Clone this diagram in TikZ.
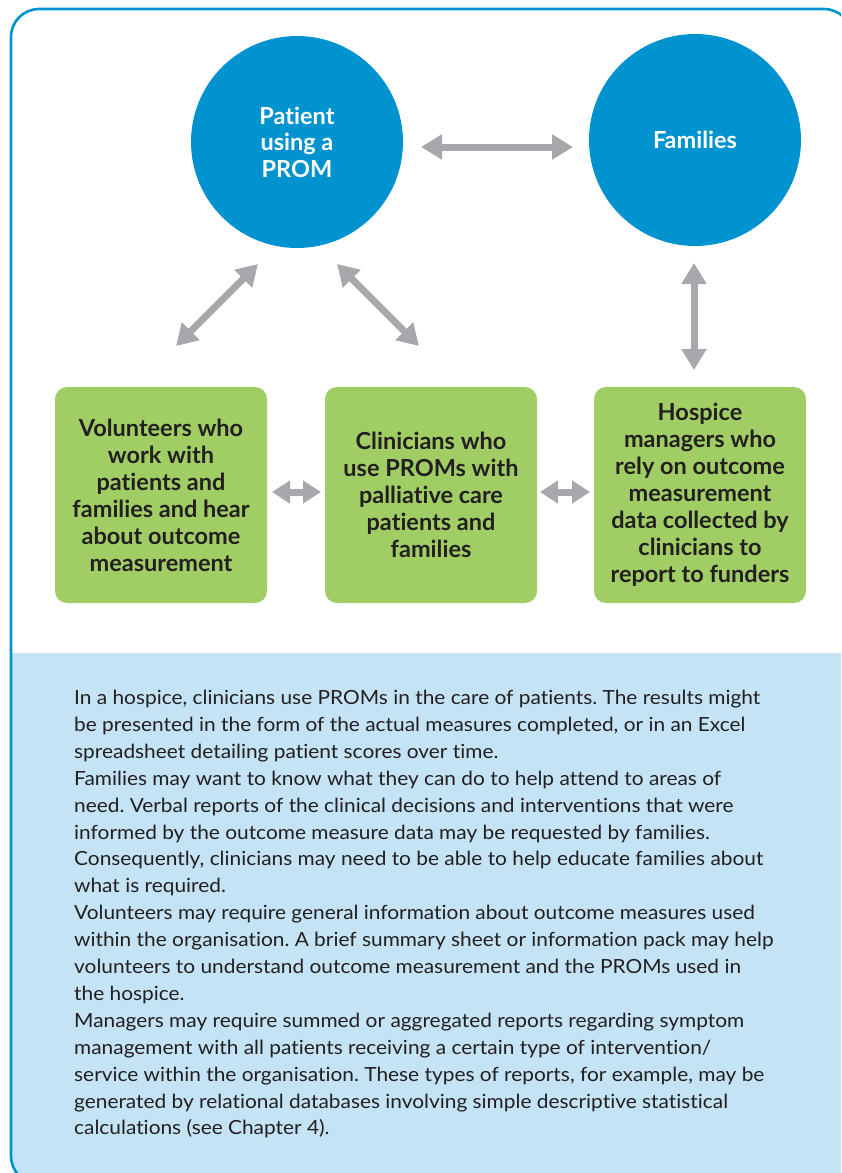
\documentclass[tikz,border=0pt]{standalone}
\usepackage{fontspec}
\setmainfont{Lato}[Ligatures=NoCommon]
\newfontfamily\bodyfont{Lato}[FakeStretch=1.07, Ligatures=NoCommon]
\usetikzlibrary{arrows.meta}
\definecolor{frameblue}{HTML}{0093D0}
\definecolor{circblue}{HTML}{0093D0}
\definecolor{boxgreen}{HTML}{A1CE64}
\definecolor{arrgrey}{HTML}{A7A8AB}
\definecolor{panelblue}{HTML}{C4E3F4}
\definecolor{darktext}{HTML}{231F20}
\tikzset{
  circ/.style={circle, fill=circblue, minimum size=212pt, inner sep=0pt, text=white, align=center, font=\fontsize{23.5}{26.5}\selectfont\bfseries},
  gbox/.style={rectangle, rounded corners=12pt, fill=boxgreen, minimum width=212pt, minimum height=216pt, inner sep=0pt, text=darktext, align=center, font=\fontsize{23.5}{27}\selectfont\bfseries},
  garrow/.style={draw=arrgrey, line width=7pt, {Triangle[length=21pt,width=24pt]}-{Triangle[length=21pt,width=24pt]}},
  sarrow/.style={draw=arrgrey, line width=7pt, {Triangle[length=18pt,width=22pt]}-{Triangle[length=18pt,width=22pt]}},
  bodytext/.style={anchor=north west, inner sep=0pt, align=left, text=darktext, font=\bodyfont\fontsize{19.5}{26.9}\selectfont}
}
\begin{document}
\frenchspacing
\begin{tikzpicture}[x=1pt,y=-1pt]
\useasboundingbox (0,0) rectangle (841,1173);
\clip (0,0) rectangle (841,1173);
% panel
\begin{scope}
\clip (0,653) rectangle (841,1173);
\fill[panelblue, rounded corners=28pt] (11,9) rectangle (852,1184);
\end{scope}
% frame
\draw[frameblue, line width=2.6pt, rounded corners=28pt] (11,9) rectangle (852,1184);
% circles
\node[circ] (patient) at (297,142) {Patient\\using a\\PROM};
\node[circ] (families) at (695,140) {Families};
% boxes
\node[gbox] (vol) at (161,495) {Volunteers who\\work with\\patients and\\families and hear\\about outcome\\measurement};
\node[gbox] (clin) at (431,495) {Clinicians who\\use PROMs with\\palliative care\\patients and\\families};
\node[gbox] (hosp) at (700,495) {Hospice\\managers who\\rely on outcome\\measurement\\data collected by\\clinicians to\\report to funders};
% arrow end points
\coordinate (a1) at (421,147); \coordinate (a2) at (573,147);
\coordinate (b1) at (176,346); \coordinate (b2) at (258,264);
\coordinate (c1) at (337,264); \coordinate (c2) at (419,346);
\coordinate (d1) at (694,263); \coordinate (d2) at (694,370);
\coordinate (e1) at (272,492); \coordinate (e2) at (321,492);
\coordinate (f1) at (540,492); \coordinate (f2) at (590,492);
\draw[garrow] (a1) -- (a2);
\draw[garrow] (b1) -- (b2);
\draw[garrow] (c1) -- (c2);
\draw[garrow] (d1) -- (d2);
\draw[sarrow] (e1) -- (e2);
\draw[sarrow] (f1) -- (f2);
% text
\node[bodytext] (body) at (74,690) {In a hospice, clinicians use PROMs in the care of patients. The results might\\
be presented in the form of the actual measures completed, or in an Excel\\
spreadsheet detailing patient scores over time.\\
Families may want to know what they can do to help attend to areas of\\
need. Verbal reports of the clinical decisions and interventions that were\\
informed by the outcome measure data may be requested by families.\\
Consequently, clinicians may need to be able to help educate families about\\
what is required.\\
Volunteers may require general information about outcome measures used\\
within the organisation. A brief summary sheet or information pack may help\\
volunteers to understand outcome measurement and the PROMs used in\\
the hospice.\\
Managers may require summed or aggregated reports regarding symptom\\
management with all patients receiving a certain type of intervention/\\
service within the organisation. These types of reports, for example, may be\\
generated by relational databases involving simple descriptive statistical\\
calculations (see Chapter 4).};
\end{tikzpicture}
\end{document}
